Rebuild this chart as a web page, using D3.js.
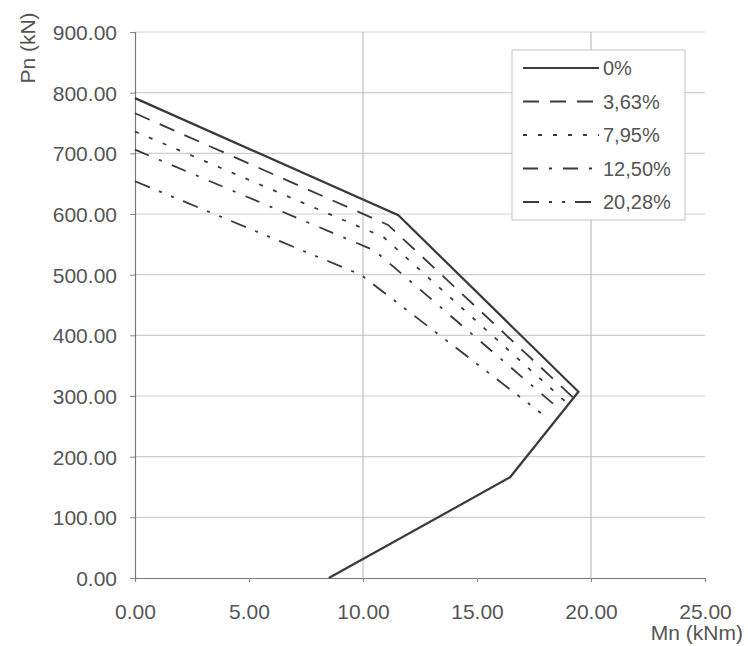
<!DOCTYPE html>
<html>
<head>
<meta charset="utf-8">
<script src="https://cdn.jsdelivr.net/npm/d3@7"></script>
<style>
  body { margin: 0; background: #fff; }
  text { font-family: "Liberation Sans", Arial, sans-serif; fill: #555; }
</style>
</head>
<body>
<svg id="chart"></svg>
<script>
// series labels
const seriesNames = ["0%", "3,63%", "7,95%", "12,50%", "20,28%"];

// Mn (kNm) and Pn (kN) values per series
const mn0  = [0.00, 11.55, 19.45, 16.45, 8.50];
const pn0  = [791, 598, 307, 166, 0];
const mn1  = [0.00, 11.10, 19.20];
const pn1  = [766, 582, 298];
const mn2  = [0.00, 10.90, 18.90];
const pn2  = [736, 562, 290];
const mn3  = [0.00, 10.50, 18.50];
const pn3  = [706, 540, 282];
const mn4  = [0.00, 9.90, 17.80];
const pn4  = [654, 500, 272];

const xTicks = [0, 5, 10, 15, 20, 25];
const yTicks = [0, 100, 200, 300, 400, 500, 600, 700, 800, 900];

const dashes = [null, "16,11", "4,11", "15,11,3,11", "16,10,3,10,3,10"];

class InteractionChart {
    constructor(config) {
        this.config = {
            parent: config.parent,
            width: config.width || 748,
            height: config.height || 646,
            margin: config.margin || {top: 32, right: 43, bottom: 68, left: 135}
        };
        this.init();
    }

    init() {
        let self = this;
        const m = self.config.margin;
        self.svg = d3.select(self.config.parent)
            .attr('width', self.config.width)
            .attr('height', self.config.height);
        self.inner_width = self.config.width - m.left - m.right;
        self.inner_height = self.config.height - m.top - m.bottom;
        self.chart = self.svg.append('g')
            .attr('transform', `translate(${m.left}, ${m.top})`);

        self.x = d3.scaleLinear().domain([0, 25]).range([0, self.inner_width]);
        self.y = d3.scaleLinear().domain([0, 900]).range([self.inner_height, 0]);

        self.series = [
            {name: seriesNames[0], mn: mn0, pn: pn0},
            {name: seriesNames[1], mn: mn1, pn: pn1},
            {name: seriesNames[2], mn: mn2, pn: pn2},
            {name: seriesNames[3], mn: mn3, pn: pn3},
            {name: seriesNames[4], mn: mn4, pn: pn4}
        ];
        self.render();
    }

    render() {
        let self = this;
        const W = self.inner_width, H = self.inner_height;

        // grid
        self.chart.append('g')
            .selectAll('line')
            .data(yTicks.filter(d => d > 0))
            .join('line')
            .attr('x1', 0).attr('x2', W)
            .attr('y1', d => self.y(d)).attr('y2', d => self.y(d))
            .attr('stroke', '#cfcfcf').attr('stroke-width', 1.2);
        self.chart.append('g')
            .selectAll('line')
            .data([10, 20])
            .join('line')
            .attr('x1', d => self.x(d)).attr('x2', d => self.x(d))
            .attr('y1', 0).attr('y2', H)
            .attr('stroke', '#b4b4b4').attr('stroke-width', 1);

        // axes
        const xAxis = d3.axisBottom(self.x).tickValues(xTicks)
            .tickFormat(d3.format('.2f')).tickSize(4).tickPadding(22);
        const yAxis = d3.axisLeft(self.y).tickValues(yTicks)
            .tickFormat(d3.format('.2f')).tickSize(5).tickPadding(13);

        const gx = self.chart.append('g')
            .attr('transform', `translate(0, ${H})`)
            .call(xAxis);
        const gy = self.chart.append('g').call(yAxis);
        [gx, gy].forEach(g => {
            g.select('.domain').attr('stroke', '#777').attr('stroke-width', 1.2);
            g.selectAll('.tick line').attr('stroke', '#888');
            g.selectAll('text').attr('font-size', '21px').attr('fill', '#595959')
                .style('font-family', '"Liberation Sans", Arial, sans-serif');
        });
        gy.selectAll('.tick text').attr('dy', '0.36em');

        // axis titles
        self.svg.append('text')
            .attr('transform', 'translate(35, 48) rotate(-90)')
            .attr('text-anchor', 'middle')
            .attr('font-size', '21px')
            .text('Pn (kN)');
        self.svg.append('text')
            .attr('x', 743).attr('y', 640)
            .attr('text-anchor', 'end')
            .attr('font-size', '21px')
            .text('Mn (kNm)');

        // lines
        const line = d3.line()
            .x(d => self.x(d[0]))
            .y(d => self.y(d[1]));
        self.chart.append('g')
            .selectAll('path')
            .data(self.series)
            .join('path')
            .attr('d', s => line(s.mn.map((v, i) => [v, s.pn[i]])))
            .attr('fill', 'none')
            .attr('stroke', '#3a3a3a')
            .attr('stroke-width', (s, i) => i === 0 ? 2.2 : 1.8)
            .attr('stroke-dasharray', (s, i) => dashes[i]);

        // legend
        const lg = self.svg.append('g').attr('transform', 'translate(512, 50)');
        lg.append('rect')
            .attr('width', 173).attr('height', 170)
            .attr('fill', '#fff')
            .attr('stroke', '#c4c4c4').attr('stroke-width', 1);
        const item = lg.selectAll('g.item')
            .data(self.series)
            .join('g')
            .attr('class', 'item')
            .attr('transform', (d, i) => `translate(0, ${18 + i * 33.5})`);
        item.append('line')
            .attr('x1', 11).attr('x2', 87)
            .attr('stroke', '#3a3a3a')
            .attr('stroke-width', (d, i) => i === 0 ? 2 : 1.8)
            .attr('stroke-dasharray', (d, i) => dashes[i]);
        item.append('text')
            .attr('x', 91).attr('dy', '0.36em')
            .attr('font-size', '20px')
            .text(d => d.name);
    }
}

new InteractionChart({parent: '#chart'});
</script>
</body>
</html>
